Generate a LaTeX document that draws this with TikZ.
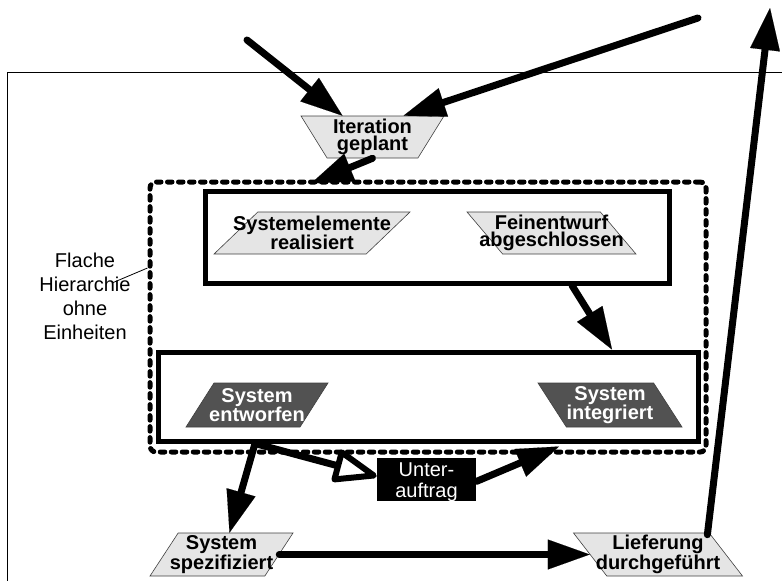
\documentclass[tikz,border=0pt]{standalone}
\usepackage{fontspec}
\setmainfont{Liberation Sans}
\usetikzlibrary{shapes.geometric,arrows.meta,calc}
\begin{document}
\begin{tikzpicture}[x=1pt,y=-1pt,
  shp/.style={trapezium, trapezium stretches=true, inner sep=2pt, minimum height=42pt, draw=black!75, line width=0.6pt},
  light/.style={shp, fill=black!10},
  dark/.style={shp, fill=black!68},
  btxt/.style={font=\bfseries\fontsize{20}{17}\selectfont, align=center, inner sep=0pt},
  wtxt/.style={btxt, text=white},
  rtxt/.style={font=\fontsize{20}{24}\selectfont, align=center, inner sep=0pt},
  heavy/.style={line width=7pt, line cap=round, -{Triangle[length=42pt,width=30pt,line width=0.1pt]}},
  thickbox/.style={draw, line width=5pt, inner sep=0pt},
]
\useasboundingbox (0,0) rectangle (782,581);
% outer thin frame
\draw[line width=1pt] (7,600) -- (7,72) -- (800,72);

% containers
\node[draw, line width=5pt, dash pattern=on 4.5pt off 6.5pt, line cap=round, rounded corners=6pt,
      minimum width=556pt, minimum height=270pt, inner sep=0pt] (dash) at (428,317) {};
\node[thickbox, minimum width=464pt, minimum height=92pt] (upper) at (437,237) {};
\node[thickbox, minimum width=540pt, minimum height=89pt] (lower) at (428,396.5) {};

% event shapes
\node[light, trapezium left angle=106, trapezium right angle=106, minimum width=143pt] (iter) at (372.5,137) {};
\node[btxt] (iter-t) at (iter.center) {Iteration\\geplant};
\node[light, trapezium left angle=68, trapezium right angle=112, minimum width=196pt] (sysre) at (312,233) {};
\node[btxt] (sysre-t) at (sysre.center) {Systemelemente\\realisiert};
\node[light, trapezium left angle=110, trapezium right angle=70, minimum width=169pt] (fein) at (551.5,233) {};
\node[btxt] (fein-t) at (fein.center) {Feinentwurf\\abgeschlossen};
\node[dark, trapezium left angle=72, trapezium right angle=108, minimum width=142pt, minimum height=44pt] (sysent) at (257,405) {};
\node[wtxt] (sysent-t) at (sysent.center) {System\\entworfen};
\node[dark, trapezium left angle=108, trapezium right angle=72, minimum width=144pt, minimum height=44pt] (sysint) at (610,405) {};
\node[wtxt] (sysint-t) at (sysint.center) {System\\integriert};
\node[light, trapezium left angle=72, trapezium right angle=108, minimum width=143pt, minimum height=43pt] (spez) at (221.5,554.5) {};
\node[btxt] (spez-t) at (spez.center) {System\\spezifiziert};
\node[light, trapezium left angle=108, trapezium right angle=72, minimum width=169pt, minimum height=43pt] (lief) at (658,554.5) {};
\node[btxt] (lief-t) at (lief.center) {Lieferung\\durchgeführt};

% subcontract box
\node[fill=black, minimum width=99pt, minimum height=43pt, inner sep=0pt] (unter) at (426.5,479.5) {};
\node[rtxt, text=white, font=\fontsize{20}{21.5}\selectfont] (unter-t) at (426.5,482) {Unter-\\auftrag};

% annotation
\node[rtxt] (flache) at (85,296) {Flache\\Hierarchie\\ohne\\Einheiten};
\draw[line width=0.8pt] ($(flache.center)+(27,-13)$) -- ($(dash.west)+(0,-49)$);

% connectors
\coordinate (in1) at (247,40);
\coordinate (in2) at (698,18);
\coordinate (out1) at (770,8);
\draw[heavy] (in1) -- ($(iter.north)+(-30,0)$);
\draw[heavy] (in2) -- ($(iter.north)+(31,0)$);
\draw[heavy] (iter.south) -- ($(dash.north)+(-117,4)$);
\draw[heavy] ($(upper.south)+(135,0)$) -- ($(lower.north)+(184,0)$);
\draw[heavy] ($(lower.south)+(-173,0)$) -- ($(spez.north)+(8,0)$);
% subcontract with hollow triangle head
\coordinate (subs) at ($(lower.south)+(-173,0)$);
\coordinate (subt) at ($(unter.west)+(-3,-4)$);
\coordinate (subb) at ($(subt)!37pt!(subs)$);
\coordinate (subb1) at ($(subb)!14pt!90:(subt)$);
\coordinate (subb2) at ($(subb)!14pt!-90:(subt)$);
\draw[line width=7pt, line cap=round] (subs) -- (subb);
\draw[line width=6pt, line join=round, fill=white] (subb1) -- (subt) -- (subb2) -- cycle;
\draw[heavy] ($(unter.east)+(0,2)$) -- ($(lower.south)+(131,3)$);
\draw[heavy] (spez.east) -- (lief.west);
\draw[heavy] ($(lief.top right corner)+(-2,2)$) -- (out1);
\end{tikzpicture}
\end{document}
